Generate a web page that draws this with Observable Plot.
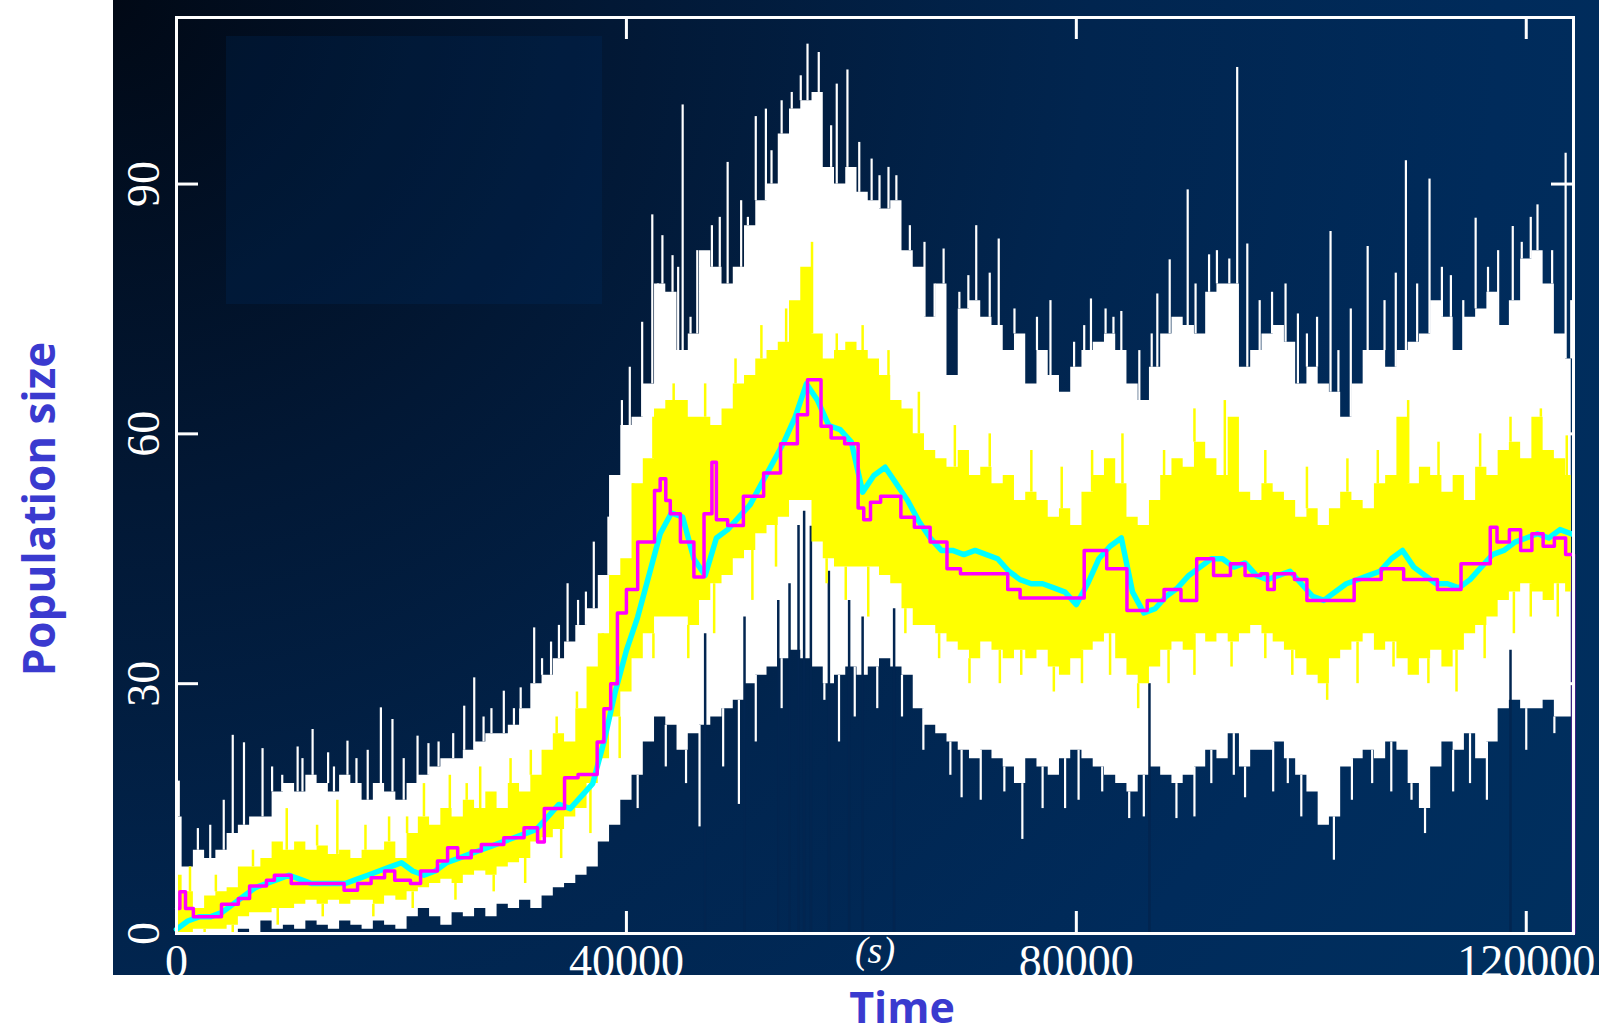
<!DOCTYPE html>
<html><head><meta charset="utf-8">
<script src="https://cdn.jsdelivr.net/npm/d3@7"></script>
<script src="https://cdn.jsdelivr.net/npm/@observablehq/plot@0.6"></script>
<style>
html,body{margin:0;padding:0;background:#fff;}
#wrap{position:relative;width:1599px;height:1036px;overflow:hidden;background:#fff;}
#panel{position:absolute;left:113px;top:0;width:1486px;height:975px;
  background:radial-gradient(circle farthest-corner at 0% 0%,#010916 0%,#021835 28%,#01254f 55%,#002b5b 78%,#00305f 100%);}
#box{position:absolute;left:226px;top:36px;width:376px;height:268px;background:rgba(0,50,110,0.22);}
#chart{position:absolute;left:0;top:0;}
.lab{position:absolute;font-family:"Open Sans",sans-serif;font-weight:700;font-size:43px;line-height:1;color:#3a3acf;white-space:nowrap;}
#ylab{left:38px;top:509px;font-size:44px;transform:translate(-50%,-50%) rotate(-90deg);}
#xlab{left:902px;top:1006px;transform:translate(-50%,-50%);}
</style></head>
<body><div id="wrap"><div id="panel"></div><div id="box"></div><div id="chart"></div>
<div class="lab" id="ylab">Population size</div><div class="lab" id="xlab">Time</div></div>
<script>
// sample spacing of the banded series (seconds)
const sampleStep = 1000;
const xTicks = [0, 40000, 80000, 120000];
const yTicks = [0, 30, 60, 90];

// white band (body), one value per 1000 s
const whiteHi = [14,8,10,9,10,12,13,14,14,17, 18,17,19,18,17,19,18,16,18,17,
 16,18,19,20,21,21,22,23,24,24, 25,27,30,31,33,35,37,39,43,55,
 61,62,66,78,77,70,72,82,80,78, 80,85,88,90,96,99,100,101,92,90,
 92,89,88,87,88,82,80,74,78,67, 75,76,74,73,70,72,66,70,67,65,
 68,70,71,72,70,66,64,68,72,74, 73,72,77,78,78,68,70,72,73,71,
 66,68,66,65,62,66,70,70,68,70, 71,72,76,74,70,74,75,77,73,76,
 81,82,78,72,69];
const whiteLo = [0,0,0,0,0,0,0.5,0,1.5,0.5, 1,0.5,1.5,1,0.5,1.5,1,0.5,1.5,1,
 0.5,2,3,2,1,2.5,2,3,2,3.5, 3,4,3,4.5,5.5,6,7,8,11,13,
 16,19,23,26,25,22,24,25,26,27, 28,30,31,32,33,34,33,32,30,31,
 32,31,32,33,32,31,27,25,24,23, 22,21,22,21,20,18,21,20,19,21,
 22,21,20,19,18,17,19,20,19,18, 19,20,22,21,24,20,22,22,23,21,
 19,17,13,14,20,21,22,21,23,22, 18,15,20,23,22,24,21,23,27,28,
 27,27,28,26,26];
// thin white spikes above the band
const spikeT = [200,1900,3000,4200,5000,6000,7650,8500,9400,10770,11200,12100,13480,14000,15200,16000,17000,18170,19200,20200,21430,22400,23300,24600,25580,26470,27300,28000,29100,30000,30600,31800,32500,33300,34000,34770,35700,36400,37100,38400,39600,40300,41400,42300,42800,43200,44100,44600,45000,45700,46300,47600,48300,49000,50200,50800,51500,52400,52900,53800,54700,55500,56100,57100,58200,58700,59650,60700,61800,62500,63300,64000,65200,66500,67400,68200,69600,70400,71100,72300,73100,74500,76500,77700,79800,80700,81300,82600,83300,84000,85600,86700,87200,88300,89900,90600,91800,92500,93600,94300,95200,96300,97400,98600,99700,100500,101400,102600,103300,104400,105900,107400,108400,109300,110300,111400,112500,113300,114400,115500,116600,117500,118800,119600,120400,121000,122300,123500,124000];
const spikeTop = [18.3,12.6,13,16,23.8,22.9,22.2,20,19,22.4,21,24.5,21.7,20,23.1,21,22,27.1,25.7,21,23.7,22.8,23,24,27.3,30.7,26,27,29.1,27,29.5,36.7,33,35,37,42,40,41,47,50,64,68,73.4,86.3,75,83.8,81.4,80,99.5,74,82,85,86,92.6,88,86,98.1,99,94,100,101,103,106.8,105.8,97,102,103.7,95,93,91,92,91,85,83,78,82.2,77,79,85,79.3,83.4,75,74,76,71,73,76.2,75,74,74.7,70,72,76.8,80.9,89.3,78,81.5,82,81,104,82.8,76,77,78,74.4,72,74,84.3,70,75,82.5,76,79.3,92.8,78,90.6,80,79,76,85.9,80,82,84.9,83,86,87.5,82,93.7,76];
// thin white spikes below the band
const dipT = [41000,43500,45300,46500,48600,50000,51500,53800,57600,58900,60300,62300,64500,66400,68800,69800,71500,73600,75200,77000,79000,80200,82300,84700,86000,88900,90500,92000,94000,95000,97500,98800,100000,102900,104500,106300,108000,109800,111000,113500,115000,116500,120000,122500];
const dipBottom = [15,20,18,12.8,20,15.5,23,27,28,23,26,27,26,22,19,16.3,16,17,11.3,15,15,16,17,13.8,14,13.8,14,18,19,16.3,17,18,14,8.8,16,18,17,16,12,17,18,16,22,24];
// dark gaps reaching up into the white band
const notchT = [47000,50500,53500,54500,55300,55800,56400,58000,59800,61000,63800,86500,118600];
const notchTop = [36,38,40,42,49,50.7,48.9,43.5,40,38,39,30,34];

// yellow band
const yellowHi = [7,5,3,4.5,5,5.5,8,8,9,11, 10,11,10,10.5,9.5,10,9,10,10,11,
 9,12,14,13,15,14,16,15,17,15, 18,17,19,22,24,23,27,32,36,43,
 45,54,57,63,64,64,62,62,61,63, 66,67,69,70,71,76,80,72,69,70,
 71,70,69,67,64,63,60,58,57,56, 58,55,56,54,55,52,53,52,50,51,
 49,53,55,57,54,50,49,52,55,57, 56,59,57,55,62,53,52,54,53,52,
 50,51,49,51,53,52,51,54,55,62, 54,56,55,53,55,52,56,55,58,59,
 57,62,58,57,55];
const yellowLo = [0,0,0.5,0.5,0.5,1,2,2.5,2.5,3, 3,3.5,4,3.5,4,3.5,4,4,3.5,4.5,
 4,5,5.5,6,6.5,6,7,7.5,7,8, 8.5,9,11,11.5,12.5,14,15,18,21,26,
 29,33,36,38,38,38,37,40,42,43, 45,46,48,49,50,52,52,47,45,44,
 44,44,44,43,42,39,37,37,36,35, 34,33,35,34,33,34,33,34,32,31,
 33,34,35,36,33,31,30,32,34,35, 34,36,35,36,35,36,37,36,35,34,
 33,31,30,33,34,35,36,34,35,33, 31,33,34,32,34,36,37,38,40,41,
 42,41,40,42,41];
// thin yellow spikes above and below the band
const ySpikeT = [1200,3500,6800,9800,12500,14300,16800,18900,20500,22000,24300,25800,27000,29700,31500,33800,35600,37900,40600,42400,44200,47000,49700,52000,54200,56500,58700,61000,63300,66000,69200,72300,76000,78700,81400,84100,87800,90500,93200,96800,100500,104100,106800,109500,112200,115900,118600,121300,123600];
const ySpikeTop = [8,7,10,15,13,16,13,14,14,18,19,18,20,21,22,26,29,35,52,62,66,66,69,73,75,83,72,73,70,65,61,60,58,56,58,60,58,63,64,58,56,57,58,64,59,60,62,63,60];
const yDipT = [2500,5000,9000,13000,17500,21000,24800,28200,31000,34200,36800,39400,42400,45500,47800,51200,53300,57800,59500,61500,64800,67800,70500,73200,75100,78000,80500,83000,85500,88200,90500,93800,96800,99200,102300,105000,108200,111300,113800,116300,118900,120400,122800];
const yDipBottom = [0,0,1,2,2,3,4,5,6,9,12,21,33,33,36,40,44,42,40,38,36,33,30,30,31,29,30,31,27,30,31,32,33,31,28,30,32,30,29,33,36,38,38];

// cyan (mean) line
const cyanV = [0.5,1.5,2,2,2.5,3.5,4.5,5.5,6,6.5, 7,6.5,6,6,6,6,6.5,7,7.5,8,
 8.5,7.5,7,7.5,8.5,9,9.5,10,10.5,11, 11.5,12,12.5,14,15.5,15,16.5,18,23,29,
 34,38,43,48,50.5,50,45,43,47.5,48.5, 50,51.5,54,56.5,59,62,66,64,61,60.5,
 59,53,55,56,54,52,49.5,47.5,46,46, 45.5,46,45.5,45,43.5,42.5,42,42,41.5,41,
 39.5,42,45,46.5,47.5,41,38.5,39,40.5,41.5, 43,44,45,45,44,44.5,43,42.5,43,43.5,
 42,40.5,40,41,42,42.5,43,43.5,45,46, 44,43,42,42,41.5,42.5,44,45.5,46,47,
 47.5,48,47.5,48.5,48];

// magenta step line (single run)
const magT = [0,300,800,1500,4000,5500,6500,8000,8700,10200,14900,16100,17300,18500,19400,20800,21700,23200,24100,25000,26200,27100,29100,30900,32100,32700,34500,35700,37400,38000,38600,39200,40000,41000,42500,43000,43500,43900,44800,46000,46900,47600,48000,49000,50400,52200,53700,55200,56100,57300,58200,59400,60600,61100,61700,62600,64400,65600,67000,68500,69700,73900,75000,80700,82700,84500,86300,87800,89300,90700,92200,93700,95000,96400,97000,97600,99400,100500,104700,107100,109100,112100,114200,116800,117400,118500,119500,120500,121500,122500,123500,124200];
const magV = [3,5,3,2,3.5,4.2,5.7,6.4,7,6,5.2,6,6.7,7.5,6.4,6,7.5,8.7,10.3,9.1,9.9,10.7,11.5,12.7,11,15,18.7,19.1,23,27,30,38.5,41.3,47,53.2,54.6,52,50.4,47,42.8,50.4,56.6,49.7,49,52.5,55.3,58.8,62.3,66.5,60.9,59.5,58.8,51.1,49.7,51.8,52.5,50,48.8,47,43.8,43.2,41.3,40.3,46,43.8,38.8,40,41.3,40,45,43,44.4,43,43.2,41.3,43.2,42.5,40,42.5,43.8,42.5,41.3,44.4,48.8,47,48.5,46,48,46.5,47.5,45.5,0];

const idx = i => i * sampleStep;
const white = whiteHi.map((h, i) => ({t: idx(i), hi: h, lo: whiteLo[i]}));
const yellow = yellowHi.map((h, i) => ({t: idx(i), hi: h, lo: yellowLo[i]}));
const cyan = cyanV.map((v, i) => ({t: idx(i), v}));
const nearest = (arr, t) => arr[Math.min(arr.length - 1, Math.round(t / sampleStep))];
const spikes = spikeT.map((t, i) => ({t, top: spikeTop[i], base: nearest(whiteHi, t)}));
const dips = dipT.map((t, i) => ({t, bottom: dipBottom[i], base: nearest(whiteLo, t)}));
const notches = notchT.map((t, i) => ({t, top: notchTop[i]}));
const ySpikes = ySpikeT.map((t, i) => ({t, top: ySpikeTop[i], base: nearest(yellowHi, t)}));
const yDips = yDipT.map((t, i) => ({t, bottom: yDipBottom[i], base: nearest(yellowLo, t)}));
const magenta = magT.map((t, i) => ({t, v: magV[i]}));

const W = 1599, H = 1036, mL = 176, mR = 26, mT = 17, mB = 103;
const fw = W - mL - mR, fh = H - mT - mB, tick = 22;
const serif = "Liberation Serif, Times New Roman, serif";

const chart = Plot.plot({
  width: W, height: H,
  marginLeft: mL, marginRight: mR, marginTop: mT, marginBottom: mB,
  style: {background: "transparent", overflow: "visible"},
  x: {domain: [0, 124200], axis: null},
  y: {domain: [0, 110], axis: null},
  marks: [
    Plot.areaY(white, {x: "t", y1: "lo", y2: "hi", fill: "white", curve: "step"}),
    Plot.ruleX(spikes, {x: "t", y1: "base", y2: "top", stroke: "white", strokeWidth: 2.2}),
    Plot.ruleX(dips, {x: "t", y1: "bottom", y2: "base", stroke: "white", strokeWidth: 2.2}),
    Plot.ruleX(notches, {x: "t", y1: 0, y2: "top", stroke: "#022550", strokeWidth: 2.5}),
    Plot.areaY(yellow, {x: "t", y1: "lo", y2: "hi", fill: "#ffff00", curve: "step"}),
    Plot.ruleX(ySpikes, {x: "t", y1: "base", y2: "top", stroke: "#ffff00", strokeWidth: 2.5}),
    Plot.ruleX(yDips, {x: "t", y1: "bottom", y2: "base", stroke: "#ffff00", strokeWidth: 2.5}),
    Plot.line(cyan, {x: "t", y: "v", stroke: "#00ffff", strokeWidth: 5.5}),
    Plot.line(magenta, {x: "t", y: "v", stroke: "#ff00ff", strokeWidth: 3.5, curve: "step-after"}),
    Plot.frame({stroke: "white", strokeWidth: 3}),
    Plot.ruleX(xTicks.filter(d => d > 0), {x: d => d, stroke: "white", strokeWidth: 3, insetTop: fh - tick}),
    Plot.ruleX(xTicks.filter(d => d > 0), {x: d => d, stroke: "white", strokeWidth: 3, insetBottom: fh - tick}),
    Plot.ruleY(yTicks.filter(d => d > 0), {y: d => d, stroke: "white", strokeWidth: 3, insetRight: fw - tick}),
    Plot.ruleY(yTicks.filter(d => d > 0), {y: d => d, stroke: "white", strokeWidth: 3, insetLeft: fw - tick}),
    Plot.text(xTicks, {x: d => d, text: d => String(d), frameAnchor: "bottom", dy: 43, lineAnchor: "bottom",
      fill: "white", fontSize: 46, fontFamily: serif}),
    Plot.text(["(s)"], {frameAnchor: "bottom", dy: 29, lineAnchor: "bottom",
      fill: "white", fontSize: 38, fontFamily: serif, fontStyle: "italic"}),
    Plot.text(yTicks, {y: d => d, text: d => String(d), frameAnchor: "left", dx: -18, rotate: -90,
      lineAnchor: "bottom", textAnchor: "middle", fill: "white", fontSize: 46, fontFamily: serif})
  ]
});
document.getElementById("chart").appendChild(chart);
</script>
</body></html>
